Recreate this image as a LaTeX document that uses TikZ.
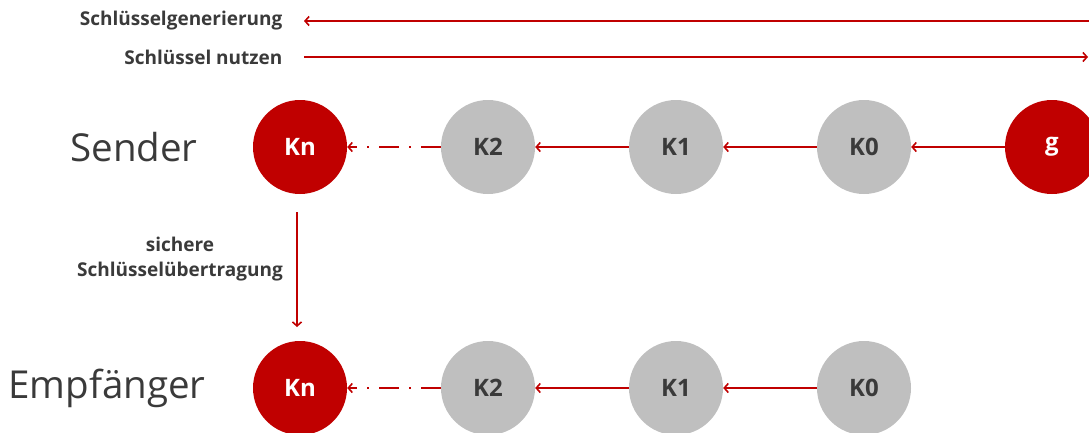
\documentclass[tikz,border=0pt]{standalone}
\usepackage{fontspec}
\setmainfont{Open Sans}
\usetikzlibrary{arrows.meta}
\definecolor{keyred}{HTML}{C00000}
\definecolor{keygray}{HTML}{BFBFBF}
\definecolor{textdark}{HTML}{3A3A3A}
\tikzset{
  keynode/.style={circle, minimum size=94pt, inner sep=0pt, font=\fontsize{24}{28}\selectfont\bfseries},
  redkey/.style={keynode, fill=keyred, text=white},
  graykey/.style={keynode, fill=keygray, text=textdark},
  flow/.style={draw=keyred, line width=1.8pt, -{Straight Barb[length=4pt,width=9pt,line width=1.6pt]}},
  dashflow/.style={flow, dash pattern=on 20pt off 10pt on 2pt off 10pt},
  rowlabel/.style={text=textdark, font=\fontsize{38.5}{44}\selectfont},
  smalllabel/.style={text=textdark, font=\fontsize{19}{25}\selectfont\bfseries, align=center}
}
\begin{document}
\begin{tikzpicture}[x=1pt, y=-1pt]
\useasboundingbox (0,0) rectangle (1089,432);
\clip (0,0) rectangle (1089,432);

% top direction arrows
\node[smalllabel, anchor=east] (gen) at (286,21) {Schlüsselgenerierung};
\node[smalllabel, anchor=east] (use) at (286,57) {Schlüssel nutzen};
\coordinate (genR) at (1095,21);
\coordinate (genL) at (304,21);
\coordinate (useL) at (304,57);
\coordinate (useR) at (1088,57);
\draw[flow] (genR) -- (genL);
\draw[flow] (useL) -- (useR);

% sender chain
\node[rowlabel] (sender) at (134,147) {Sender};
\node[redkey] (sKn) at (300,147) {Kn};
\node[graykey] (sK2) at (488,147) {K2};
\node[graykey] (sK1) at (676,147) {K1};
\node[graykey] (sK0) at (864,147) {K0};
\node[redkey] (sg) at (1052,147) {g};
\draw[flow] (sg) -- (sK0);
\draw[flow] (sK0) -- (sK1);
\draw[flow] (sK1) -- (sK2);
\draw[dashflow] (sK2) -- (sKn);

% secure transfer
\coordinate (tTop) at (297,212);
\coordinate (tBot) at (297,327);
\draw[flow] (tTop) -- (tBot);
\node[smalllabel] (transfer) at (180,259) {sichere\\Schlüsselübertragung};

% receiver chain
\node[rowlabel] (receiver) at (107,388) {Empfänger};
\node[redkey] (rKn) at (300,388) {Kn};
\node[graykey] (rK2) at (488,388) {K2};
\node[graykey] (rK1) at (676,388) {K1};
\node[graykey] (rK0) at (864,388) {K0};
\draw[flow] (rK0) -- (rK1);
\draw[flow] (rK1) -- (rK2);
\draw[dashflow] (rK2) -- (rKn);
\end{tikzpicture}
\end{document}
